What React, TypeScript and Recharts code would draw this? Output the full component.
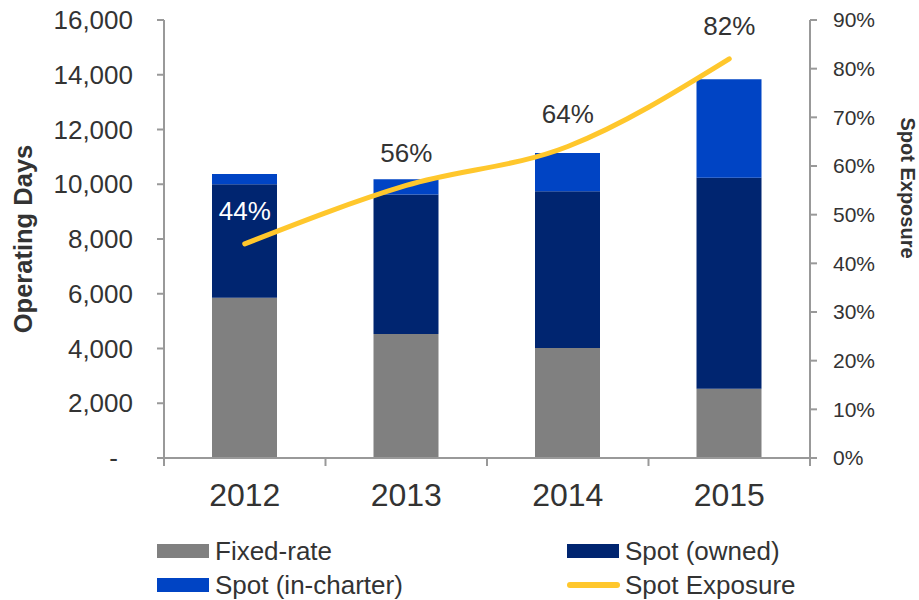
import { ComposedChart, Bar, Line, XAxis, YAxis, Legend, LabelList, Label } from "recharts";

const years = ["2012", "2013", "2014", "2015"];
const fixedRate = [5850, 4530, 4020, 2530];
const spotOwned = [4150, 5100, 5720, 7710];
const spotInCharter = [370, 550, 1400, 3600];
const spotExposure = [44, 56, 64, 82];

const daysTicks = [0, 2000, 4000, 6000, 8000, 10000, 12000, 14000, 16000];
const pctTicks = [0, 10, 20, 30, 40, 50, 60, 70, 80, 90];

// legend grid: row 1 = Fixed-rate, Spot (owned); row 2 = Spot (in-charter), Spot Exposure
const legendOrder = ["Fixed-rate", "Spot (owned)", "Spot (in-charter)", "Spot Exposure"];

const data = years.map((year, i) => ({
    year,
    fixed: fixedRate[i],
    owned: spotOwned[i],
    charter: spotInCharter[i],
    exposure: spotExposure[i],
}));

const W = 919;
const H = 600;
const LEFT_W = 164;
const RIGHT_W = 109;
const BAND = (W - LEFT_W - RIGHT_W) / years.length;

const FONT = '"Liberation Sans", Arial, sans-serif';
const TEXT = "#333333";
const AXIS = "#999999";

const COLORS = {
    fixed: "#808080",
    owned: "#002570",
    charter: "#0044C4",
    exposure: "#FFC72C",
};

function XTick(props: any) {
    const { x, y, index } = props;
    return (
        <g>
            <line x1={x - BAND / 2} x2={x - BAND / 2} y1={y} y2={y + 8} stroke={AXIS} strokeWidth={2} />
            {index === years.length - 1 && (
                <line x1={x + BAND / 2} x2={x + BAND / 2} y1={y} y2={y + 8} stroke={AXIS} strokeWidth={2} />
            )}
            <text x={x} y={y + 48} textAnchor="middle" fontSize={32} fill={TEXT} fontFamily={FONT}>
                {props.payload.value}
            </text>
        </g>
    );
}

function LeftTick(props: any) {
    const { x, y, payload } = props;
    const v = payload.value;
    return (
        <g>
            <line x1={x - 7} x2={x} y1={y} y2={y} stroke={AXIS} strokeWidth={2} />
            <text x={v === 0 ? x - 46 : x - 31} y={y} dy="0.35em" textAnchor="end" fontSize={26} fill={TEXT} fontFamily={FONT}>
                {v === 0 ? "-" : v.toLocaleString("en-US")}
            </text>
        </g>
    );
}

function RightTick(props: any) {
    const { x, y, payload } = props;
    return (
        <g>
            <line x1={x} x2={x + 7} y1={y} y2={y} stroke={AXIS} strokeWidth={2} />
            <text x={x + 23} y={y} dy="0.35em" textAnchor="start" fontSize={21} fill={TEXT} fontFamily={FONT}>
                {payload.value + "%"}
            </text>
        </g>
    );
}

function ExposureLabel(props: any) {
    const { x, y, value, index } = props;
    return (
        <text
            x={x}
            y={y - 33}
            dy="0.35em"
            textAnchor="middle"
            fontSize={26}
            fill={index === 0 ? "#ffffff" : TEXT}
            fontFamily={FONT}
        >
            {value + "%"}
        </text>
    );
}

function LegendBox(props: any) {
    const items = props.payload || [];
    return (
        <div style={{ position: "relative", width: W, height: 70, fontFamily: FONT, fontSize: 26, color: TEXT }}>
            {items.map((item: any) => {
                const i = legendOrder.indexOf(item.value);
                const col = i % 2;
                const row = Math.floor(i / 2);
                const isLine = item.type === "line";
                return (
                    <div
                        key={item.value}
                        style={{
                            position: "absolute",
                            left: col === 0 ? 157 : 567,
                            top: row === 0 ? 6 : 40,
                            height: 30,
                            display: "flex",
                            alignItems: "center",
                            whiteSpace: "nowrap",
                        }}
                    >
                        <svg width={53} height={16} style={{ marginRight: 5 }}>
                            {isLine ? (
                                <line x1={3} x2={50} y1={8} y2={8} stroke={item.color} strokeWidth={6} strokeLinecap="round" />
                            ) : (
                                <rect x={0} y={1} width={52} height={14} fill={item.color} />
                            )}
                        </svg>
                        <span>{item.value}</span>
                    </div>
                );
            })}
        </div>
    );
}

function LeftTitle(props: any) {
    const vb = props.viewBox;
    const cx = vb.x + 23;
    const cy = vb.y + vb.height / 2;
    return (
        <text
            x={cx}
            y={cy}
            dy="0.35em"
            transform={`rotate(-90, ${cx}, ${cy})`}
            textAnchor="middle"
            fontSize={25.5}
            fontWeight="bold"
            fill={TEXT}
            fontFamily={FONT}
        >
            Operating Days
        </text>
    );
}

function RightTitle(props: any) {
    const vb = props.viewBox;
    const cx = vb.x + 98;
    const cy = vb.y + 168;
    return (
        <text
            x={cx}
            y={cy}
            dy="0.35em"
            transform={`rotate(90, ${cx}, ${cy})`}
            textAnchor="middle"
            fontSize={20}
            fontWeight="bold"
            fill={TEXT}
            fontFamily={FONT}
        >
            Spot Exposure
        </text>
    );
}

export default function App() {
    return (
        <div style={{ position: "absolute", left: 0, top: 0, width: W, height: H, background: "#fff" }}>
            <ComposedChart width={W} height={H} data={data} margin={{ top: 20, right: 0, left: 0, bottom: 0 }}>
                <XAxis
                    dataKey="year"
                    xAxisId="x"
                    height={72}
                    tickSize={0}
                    tickMargin={0}
                    tickLine={false}
                    axisLine={{ stroke: AXIS, strokeWidth: 2 }}
                    tick={<XTick />}
                    interval={0}
                />
                <YAxis
                    yAxisId="days"
                    orientation="left"
                    width={LEFT_W}
                    domain={[0, 16000]}
                    ticks={daysTicks}
                    interval={0}
                    tickSize={0}
                    tickMargin={0}
                    tickLine={false}
                    axisLine={{ stroke: AXIS, strokeWidth: 2 }}
                    tick={<LeftTick />}
                >
                    <Label content={<LeftTitle />} />
                </YAxis>
                <YAxis
                    yAxisId="pct"
                    orientation="right"
                    width={RIGHT_W}
                    domain={[0, 90]}
                    ticks={pctTicks}
                    interval={0}
                    tickSize={0}
                    tickMargin={0}
                    tickLine={false}
                    axisLine={{ stroke: AXIS, strokeWidth: 2 }}
                    tick={<RightTick />}
                >
                    <Label content={<RightTitle />} />
                </YAxis>
                <Legend
                    verticalAlign="bottom"
                    height={70}
                    content={<LegendBox />}
                    wrapperStyle={{ left: 0, width: W, height: 70 }}
                />
                <Bar dataKey="fixed" name="Fixed-rate" stackId="a" xAxisId="x" yAxisId="days" fill={COLORS.fixed} barSize={65} isAnimationActive={false} />
                <Bar dataKey="owned" name="Spot (owned)" stackId="a" xAxisId="x" yAxisId="days" fill={COLORS.owned} barSize={65} isAnimationActive={false} />
                <Bar dataKey="charter" name="Spot (in-charter)" stackId="a" xAxisId="x" yAxisId="days" fill={COLORS.charter} barSize={65} isAnimationActive={false} />
                <Line
                    dataKey="exposure"
                    name="Spot Exposure"
                    type="monotone"
                    xAxisId="x"
                    yAxisId="pct"
                    stroke={COLORS.exposure}
                    strokeWidth={5}
                    strokeLinecap="round"
                    dot={false}
                    activeDot={false}
                    legendType="line"
                    isAnimationActive={false}
                >
                    <LabelList dataKey="exposure" content={<ExposureLabel />} />
                </Line>
            </ComposedChart>
        </div>
    );
}
